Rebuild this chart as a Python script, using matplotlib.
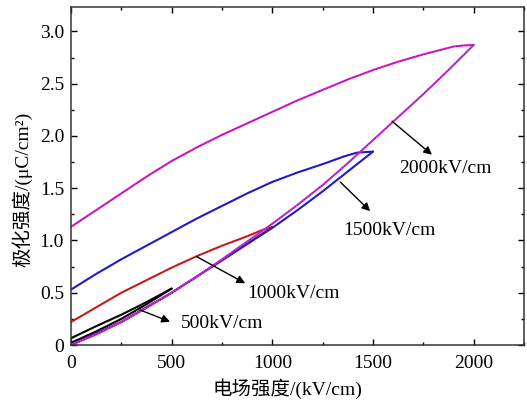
import matplotlib.pyplot as plt
from matplotlib.ticker import MultipleLocator

plt.rcParams['font.family'] = ['Liberation Serif', 'Noto Sans CJK SC']

# P-E loops at four field amplitudes (kV/cm -> uC/cm2)
e_up_2000 = [0, 125, 250, 375, 500, 625, 750, 875, 1000, 1125, 1250, 1375,
             1500, 1625, 1750, 1850, 1900, 1950, 2000]
p_up_2000 = [1.13, 1.29, 1.45, 1.61, 1.76, 1.89, 2.01, 2.12, 2.23, 2.34, 2.44,
             2.54, 2.63, 2.71, 2.78, 2.83, 2.855, 2.865, 2.87]
e_dn_2000 = [0, 125, 250, 375, 500, 625, 750, 875, 1000, 1125, 1250, 1375,
             1500, 1625, 1750, 1875, 2000]
p_dn_2000 = [0.0, 0.10, 0.22, 0.355, 0.50, 0.655, 0.82, 0.99, 1.16, 1.34, 1.53,
             1.74, 1.96, 2.18, 2.40, 2.63, 2.87]

e_up_1500 = [0, 125, 250, 375, 500, 625, 750, 875, 1000, 1125, 1250, 1350,
             1420, 1500]
p_up_1500 = [0.53, 0.68, 0.82, 0.95, 1.08, 1.21, 1.33, 1.45, 1.56, 1.65, 1.73,
             1.80, 1.84, 1.85]
e_dn_1500 = [0, 250, 500, 750, 1000, 1125, 1250, 1375, 1500]
p_dn_1500 = [0.0, 0.22, 0.50, 0.81, 1.12, 1.29, 1.47, 1.66, 1.85]

e_up_1000 = [0, 125, 250, 375, 500, 625, 750, 875, 950, 1000]
p_up_1000 = [0.22, 0.36, 0.50, 0.62, 0.74, 0.85, 0.95, 1.04, 1.10, 1.13]
e_dn_1000 = [0, 250, 500, 750, 1000]
p_dn_1000 = [0.0, 0.22, 0.50, 0.81, 1.13]

e_up_500 = [0, 125, 250, 375, 500]
p_up_500 = [0.065, 0.18, 0.29, 0.41, 0.54]
e_dn_500 = [0, 125, 250, 375, 500]
p_dn_500 = [0.02, 0.13, 0.25, 0.39, 0.54]

loop_labels = ['2000kV/cm', '1500kV/cm', '1000kV/cm', '500kV/cm']
arrow_tail = [(1595, 2.14), (1337, 1.56), (625, 0.845), (343, 0.335)]
arrow_head = [(1793, 1.82), (1486, 1.28), (865, 0.59), (492, 0.223)]
label_pos = [(1861, 1.69), (1581, 1.10), (1105, 0.495), (749, 0.207)]

xticks = [0, 500, 1000, 1500, 2000]
xtick_labels = ['0', '500', '1000', '1500', '2000']
yticks = [0, 0.5, 1.0, 1.5, 2.0, 2.5, 3.0]
ytick_labels = ['0', '0.5', '1.0', '1.5', '2.0', '2.5', '3.0']

fig = plt.figure(figsize=(5.27, 4.07), dpi=100)
ax = fig.add_axes([0.1347, 0.1523, 0.8596, 0.8297])


def branch(e, p, color):
    ax.plot(e, p, color=color, lw=1.5, solid_capstyle='round', solid_joinstyle='round')
    ax.plot(e, p, color='#301030', lw=0.8, alpha=0.6, linestyle=(0, (1, 1.5)))


branch(e_dn_500, p_dn_500, 'black')
branch(e_up_500, p_up_500, 'black')
branch(e_dn_1000, p_dn_1000, '#e02020')
branch(e_up_1000, p_up_1000, '#e02020')
branch(e_dn_1500, p_dn_1500, '#2020d8')
branch(e_up_1500, p_up_1500, '#2020d8')
branch(e_dn_2000, p_dn_2000, '#d030e0')
branch(e_up_2000, p_up_2000, '#e020d8')

for txt, tail, head, pos in zip(loop_labels, arrow_tail, arrow_head, label_pos):
    ax.annotate('', xy=head, xytext=tail,
                arrowprops=dict(arrowstyle='-|>', color='black', lw=1.0,
                                mutation_scale=12, shrinkA=0, shrinkB=0))
    ax.text(pos[0], pos[1], txt, fontsize=14, ha='center', va='center')

ax.set_xlim(0, 2250)
ax.set_ylim(0, 3.23)
ax.set_xticks(xticks)
ax.set_xticklabels(xtick_labels)
ax.set_yticks(yticks)
ax.set_yticklabels(ytick_labels)
ax.xaxis.set_minor_locator(MultipleLocator(250))
ax.yaxis.set_minor_locator(MultipleLocator(0.25))
ax.tick_params(which='both', direction='in', top=True, right=True, labelsize=14)
ax.tick_params(axis='x', which='major', length=4, width=1.0, pad=7)
ax.tick_params(axis='y', which='major', length=4, width=1.0, pad=5)
ax.tick_params(which='minor', length=2.5, width=1.0)
for s in ax.spines.values():
    s.set_linewidth(1.1)
    s.set_color('#333333')

ax.set_xlabel('电场强度/(kV/cm)', fontsize=14)
ax.set_ylabel('极化强度/(μC/cm²)', fontsize=14)
ax.xaxis.set_label_coords(0.477, -0.098)
ax.yaxis.set_label_coords(-0.086, 0.462)

fig.savefig('out.png', dpi=100)
